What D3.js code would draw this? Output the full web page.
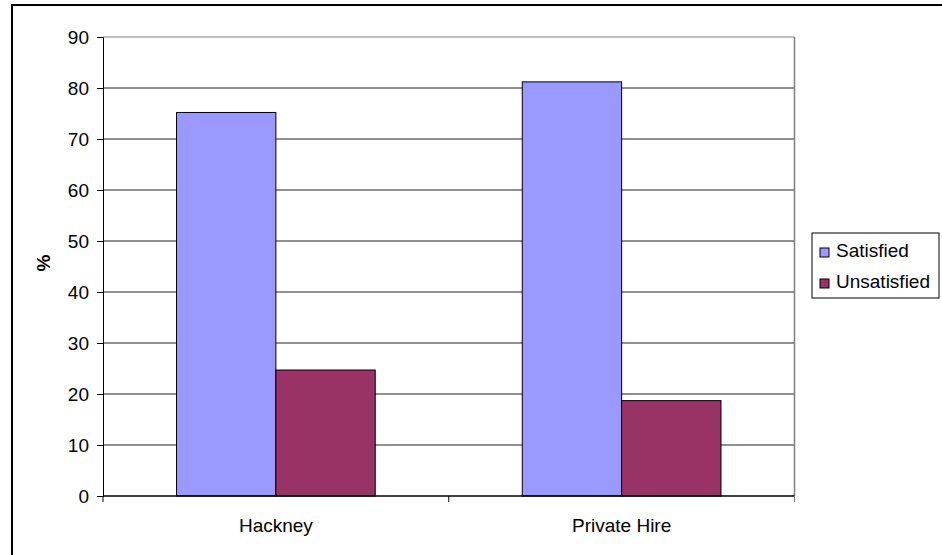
<!DOCTYPE html>
<html><head><meta charset="utf-8">
<script src="https://cdn.jsdelivr.net/npm/d3@7"></script>
<style>html,body{margin:0;padding:0;background:#fff;}</style>
</head><body>
<svg id="c" width="942" height="555"></svg>
<script>
const categories = ["Hackney", "Private Hire"];
const seriesNames = ["Satisfied", "Unsatisfied"];
const satisfied = [75.2, 81.2];
const unsatisfied = [24.7, 18.7];
const yTicks = [0, 10, 20, 30, 40, 50, 60, 70, 80, 90];
const colors = ["#9999FF", "#993366"];
const yLabel = "%";

const svg = d3.select("#c");
const font = "Liberation Sans, Arial, sans-serif";
const L = 103, R = 794.5, T = 37, B = 496;

// outer frame (extends beyond right/bottom edges)
svg.append("rect").attr("x", 12).attr("y", 5).attr("width", 1000).attr("height", 600)
  .attr("fill", "none").attr("stroke", "#000").attr("stroke-width", 2);

const x = d3.scaleBand().domain(categories).range([L, R]);
const xs = d3.scaleBand().domain(seriesNames).range([0, x.bandwidth()]).paddingInner(0).paddingOuter(0.74);
const y = d3.scaleLinear().domain([0, 90]).range([B, T]);

// gridlines
svg.append("g").selectAll("line").data(yTicks.filter(d => d > 0)).join("line")
  .attr("x1", L).attr("x2", R).attr("y1", d => y(d)).attr("y2", d => y(d))
  .attr("stroke", d => d === 90 ? "#808080" : "#222").attr("stroke-width", 1);
// right plot border
svg.append("line").attr("x1", R).attr("x2", R).attr("y1", T).attr("y2", B)
  .attr("stroke", "#808080").attr("stroke-width", 1.5);

const data = [satisfied, unsatisfied];
seriesNames.forEach((s, si) => {
  svg.append("g").selectAll("rect").data(categories).join("rect")
    .attr("x", c => x(c) + xs(s))
    .attr("y", (c, i) => y(data[si][i]))
    .attr("width", xs.bandwidth())
    .attr("height", (c, i) => B - y(data[si][i]))
    .attr("fill", colors[si]).attr("stroke", "#000").attr("stroke-width", 1);
});

// y axis
const yAxis = svg.append("g").attr("transform", `translate(${L},0)`)
  .call(d3.axisLeft(y).tickValues(yTicks).tickSize(6).tickPadding(8));
yAxis.select(".domain").attr("stroke", "#000");
yAxis.selectAll(".tick line").attr("stroke", "#000");
yAxis.selectAll("text").attr("font-family", font).attr("font-size", 19).attr("fill", "#000");

// x axis
const xAxis = svg.append("g").attr("transform", `translate(0,${B})`);
xAxis.append("line").attr("x1", L).attr("x2", R).attr("stroke", "#000").attr("stroke-width", 1.5);
xAxis.selectAll("line.tk").data([L, (L + R) / 2, R]).join("line").attr("class", "tk")
  .attr("x1", d => d).attr("x2", d => d).attr("y1", 0).attr("y2", 6)
  .attr("stroke", (d, i) => i === 2 ? "#808080" : "#000");
xAxis.selectAll("text").data(categories).join("text")
  .attr("x", c => x(c) + x.bandwidth() / 2).attr("y", 36)
  .attr("text-anchor", "middle").attr("font-family", font).attr("font-size", 19)
  .text(c => c);

// y label
svg.append("text").attr("transform", `translate(50,263) rotate(-90)`)
  .attr("text-anchor", "middle").attr("font-family", font).attr("font-size", 19)
  .attr("font-weight", "bold").text(yLabel);

// legend
const lg = svg.append("g");
lg.append("rect").attr("x", 812).attr("y", 233).attr("width", 127).attr("height", 65)
  .attr("fill", "#fff").attr("stroke", "#000").attr("stroke-width", 1);
seriesNames.forEach((s, i) => {
  lg.append("rect").attr("x", 820).attr("y", 248 + i * 31).attr("width", 9).attr("height", 9)
    .attr("fill", colors[i]).attr("stroke", "#000").attr("stroke-width", 1);
  lg.append("text").attr("x", 836).attr("y", 257 + i * 31)
    .attr("font-family", font).attr("font-size", 19).text(s);
});
</script>
</body></html>
